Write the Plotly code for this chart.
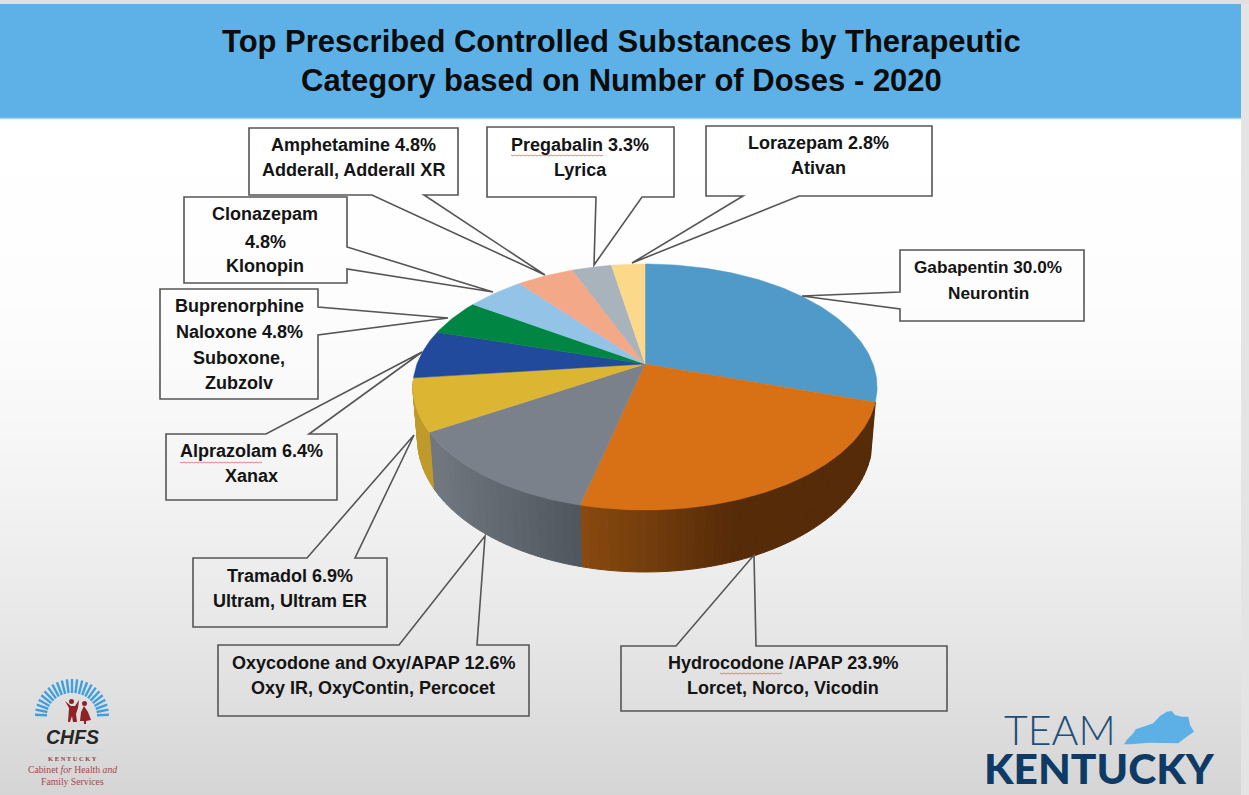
import numpy as np
import plotly.graph_objects as go

# ---------- data ----------
names = ["Gabapentin", "Hydrocodone /APAP", "Oxycodone and Oxy/APAP", "Tramadol", "Alprazolam",
         "Buprenorphine Naloxone", "Clonazepam", "Amphetamine", "Pregabalin", "Lorazepam"]
shares = [30.0, 23.9, 12.6, 6.9, 6.4, 4.8, 4.8, 4.8, 3.3, 2.8]
title_lines = ["Top Prescribed Controlled Substances by Therapeutic",
               "Category based on Number of Doses - 2020"]
label_lines = [
    ["Gabapentin 30.0%", "Neurontin"],
    ["Hydrocodone /APAP 23.9%", "Lorcet, Norco, Vicodin"],
    ["Oxycodone and Oxy/APAP 12.6%", "Oxy IR, OxyContin, Percocet"],
    ["Tramadol 6.9%", "Ultram, Ultram ER"],
    ["Alprazolam 6.4%", "Xanax"],
    ["Buprenorphine", "Naloxone 4.8%", "Suboxone,", "Zubzolv"],
    ["Clonazepam", "4.8%", "Klonopin"],
    ["Amphetamine 4.8%", "Adderall, Adderall XR"],
    ["Pregabalin 3.3%", "Lyrica"],
    ["Lorazepam 2.8%", "Ativan"],
]

# ---------- styles and layout ----------
top_colors = ["#4f9ac9", "#d87016", "#7a818b", "#dcb633", "#214a9c",
              "#008642", "#93c4e8", "#f3a887", "#a9b3bb", "#fbd88a"]
side_ramp = {1: ((138, 74, 16), (85, 43, 8), 580, 735),
             2: ((112, 119, 127), (79, 86, 94), 435, 580),
             3: ((191, 154, 42), (191, 154, 42), 0, 1)}
CX, CY, RX, RY, K, DEPTH, SHRINK = 645, 364, 228, 118.7, 0.187, 50.4, 0.98
SIDE_STEP = 2.0
FONT = "Liberation Sans"
TEXT = "#141414"
BOX = "#555555"

# box x0, x1, y0, y1; wedge base a, wedge base b, tip; the wedge sits on side
callouts = [
    (900, 1084, 250, 321, "left", (900, 292), (900, 309), (802, 296)),
    (621, 947, 646, 711, "top", (676, 646), (756, 646), (754, 555)),
    (218, 529, 645, 716, "top", (399, 645), (477, 645), (485, 536)),
    (193, 387, 558, 627, "top", (307, 558), (355, 558), (414, 435)),
    (166, 337, 434, 500, "top", (266, 434), (309, 434), (422, 352)),
    (160, 318, 289, 399, "right", (318, 307), (318, 335), (448, 318)),
    (184, 347, 197, 283, "right", (347, 247), (347, 269), (493, 292)),
    (249, 458, 128, 195, "bottom", (372, 195), (424, 195), (545, 275)),
    (487, 674, 127, 197, "bottom", (596, 197), (642, 197), (594, 265)),
    (706, 932, 126, 196, "bottom", (743, 196), (799, 196), (632, 263)),
]
label_x = [988, 783, 373, 290, 251, 239, 265, 353, 580, 818]
label_y = [[267, 293], [663, 688], [663, 688], [576, 601], [451, 476],
           [306, 332, 358, 383], [214, 242, 266], [145, 170], [145, 170], [143, 168]]
label_size = [17.2, 18, 18, 18, 18, 18, 18, 18, 18, 18]
squiggles = [(511, 604, 155), (180, 262, 462), (720, 783, 673)]

fig = go.Figure()

# background gradient
ys = [119, 230, 330, 430, 530, 630, 730, 795]
gray = [255, 254, 252, 247, 240, 231, 220, 213]
fig.add_trace(go.Heatmap(x=[0, 1241], y=ys, z=[[g, g] for g in gray], zmin=0, zmax=255,
                         colorscale=[[0, "rgb(0,0,0)"], [1, "rgb(255,255,255)"]],
                         showscale=False, zsmooth="best", hoverinfo="skip"))


def proj(theta, bottom=False):
    d = 1 + K * np.cos(theta)
    x = CX + RX * np.sin(theta) / d
    y = CY - RY * np.cos(theta) / d
    if bottom:
        x = CX + (x - CX) * SHRINK
        y = y + DEPTH / d
    return x, y


fracs = np.array(shares) / sum(shares)
edges = np.concatenate([[0], np.cumsum(fracs)]) * 2 * np.pi

# side wall
for i, (c0, c1, x0, x1) in side_ramp.items():
    a0 = np.degrees(edges[i])
    a1 = min(np.degrees(edges[i + 1]), 262.0)
    steps = np.arange(a0, a1 + SIDE_STEP, SIDE_STEP)
    steps[-1] = a1
    for s, e in zip(steps[:-1], steps[1:]):
        ts = np.radians([s, e])
        xt, yt = proj(ts)
        xb, yb = proj(ts, True)
        t = float(np.clip((xt.mean() - x0) / (x1 - x0), 0, 1))
        col = "rgb(%d,%d,%d)" % tuple(round(c0[j] + (c1[j] - c0[j]) * t) for j in range(3))
        fig.add_trace(go.Scatter(x=[xt[0], xt[1], xb[1], xb[0], xt[0]],
                                 y=[yt[0], yt[1], yb[1], yb[0], yt[0]],
                                 mode="lines", fill="toself", fillcolor=col,
                                 line=dict(color=col, width=1), hoverinfo="skip"))

# top face
for i, name in enumerate(names):
    t = np.linspace(edges[i], edges[i + 1], max(int((edges[i + 1] - edges[i]) * 60), 8))
    x, y = proj(t)
    fig.add_trace(go.Scatter(x=np.r_[CX, x, CX], y=np.r_[CY, y, CY], mode="lines", fill="toself",
                             fillcolor=top_colors[i], line=dict(color=top_colors[i], width=0.5),
                             name=name, hoverinfo="name"))

shapes = [
    dict(type="rect", x0=1241, x1=1249, y0=0, y1=795, fillcolor="#e4e4e4", line_width=0),
    dict(type="rect", x0=0, x1=1249, y0=0, y1=4, fillcolor="#e0e0e0", line_width=0),
    dict(type="rect", x0=0, x1=1241, y0=4, y1=118, fillcolor="#5eb1e6", line_width=0),
    dict(type="line", x0=0, x1=1241, y0=118.5, y1=118.5, line=dict(color="#a8d6f1", width=1.5)),
]

# callout outlines (no fill: the background shows through)
for x0, x1, y0, y1, side, a, b, tip in callouts:
    corners = {
        "left": [(x0, y1), (x1, y1), (x1, y0), (x0, y0)],
        "right": [(x1, y1), (x0, y1), (x0, y0), (x1, y0)],
        "top": [(x1, y0), (x1, y1), (x0, y1), (x0, y0)],
        "bottom": [(x0, y1), (x0, y0), (x1, y0), (x1, y1)],
    }[side]
    first, last = (a, b) if side == "bottom" else (b, a)
    pts = [first] + corners + [last, tip, first]
    path = "M " + " L ".join(f"{px} {py}" for px, py in pts) + " Z"
    shapes.append(dict(type="path", path=path, line=dict(color=BOX, width=1.6)))

# spell-check underlines
for x0, x1, y in squiggles:
    xs = np.arange(x0, x1 + 1, 2)
    path = "M " + " L ".join(f"{px} {y + (j % 2)}" for j, px in enumerate(xs))
    shapes.append(dict(type="path", path=path, line=dict(color="#e2625f", width=0.8)))

annotations = []


def txt(x, y, s, size, color=TEXT, weight=400, family=FONT, style="normal", anchor="center"):
    annotations.append(dict(x=x, y=y, xref="x", yref="y", text=s, showarrow=False, xanchor=anchor,
                            yanchor="middle", font=dict(family=family, size=size, color=color,
                                                        weight=weight, style=style)))


txt(621, 41, title_lines[0], 31, "#0c0c0c", 700)
txt(621, 80, title_lines[1], 31, "#0c0c0c", 700)
for lines, x, yl, sz in zip(label_lines, label_x, label_y, label_size):
    for s, y in zip(lines, yl):
        txt(x, y, s, sz, TEXT, 700)

# --- CHFS logo ---
for a in np.linspace(-88, 88, 23):
    r = np.radians(a)
    shapes.append(dict(type="line", x0=72 + 25 * np.sin(r), y0=716 - 23 * np.cos(r),
                       x1=72 + 37 * np.sin(r), y1=716 - 37 * np.cos(r),
                       line=dict(color="#3f9fdc", width=2.4)))
RED = "#8f2227"
shapes += [
    dict(type="circle", x0=69, x1=74, y0=699, y1=704, fillcolor=RED, line_width=0),
    dict(type="circle", x0=82, x1=87, y0=701, y1=706, fillcolor=RED, line_width=0),
    dict(type="path", path="M 65 701 L 71 706 L 75 706 L 79 700 L 78 708 L 76 714 L 77 722 L 73 722 L 72 716 L 70 722 L 68 722 L 69 708 Z",
         fillcolor=RED, line_width=0),
    dict(type="path", path="M 84 706 L 88 712 L 91 720 L 86 721 L 86 724 L 84 724 L 84 721 L 80 721 L 81 712 Z",
         fillcolor=RED, line_width=0),
    dict(type="line", x0=41, x1=103, y0=750, y1=750, line=dict(color="#bcd6e6", width=1.2)),
]
txt(72, 737, "CHFS", 19.5, "#262626", 700, style="italic")
txt(72, 758, "K E N T U C K Y", 6.5, "#8f4447", 700, "Liberation Serif")
txt(72, 769, "Cabinet <i>for</i> Health <i>and</i>", 9.7, "#a3494c", 400, "Liberation Serif")
txt(72, 781, "Family Services", 9.7, "#a3494c", 400, "Liberation Serif")

# --- Team Kentucky logo ---
state_zx = [462, 470, 490, 497, 520, 550, 570, 590, 605, 615, 635, 655, 660, 672, 650, 625, 540, 480]
state_zy = [163, 150, 130, 118, 110, 100, 78, 65, 63, 75, 80, 80, 105, 125, 140, 160, 158, 163]
state_path = "M " + " L ".join(f"{970 + a / 3:.1f} {690 + b / 3:.1f}" for a, b in zip(state_zx, state_zy)) + " Z"
shapes.append(dict(type="path", path=state_path, fillcolor="#5cb0e6", line_width=0))
txt(1002, 729, "TEAM", 41, "#1d4e78", 300, "Lato", anchor="left")
txt(982, 767, "KENTUCKY", 42.5, "#0d3b66", 900, "Lato", anchor="left")

fig.update_layout(
    width=1249, height=795, margin=dict(l=0, r=0, t=0, b=0), showlegend=False,
    paper_bgcolor="#ffffff", plot_bgcolor="rgba(0,0,0,0)",
    xaxis=dict(range=[0, 1249], visible=False, fixedrange=True, domain=[0, 1]),
    yaxis=dict(range=[795, 0], visible=False, fixedrange=True, domain=[0, 1]),
    shapes=shapes, annotations=annotations,
)
fig.write_html("out.html", config=dict(displayModeBar=False),
               post_script="document.body.style.margin='0';document.body.style.overflow='hidden';")
